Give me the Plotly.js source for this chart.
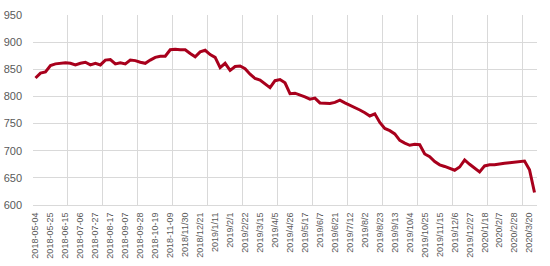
<!DOCTYPE html>
<html>
<head>
<meta charset="utf-8">
<script src="https://cdn.plot.ly/plotly-3.0.1.min.js"></script>
<style>html,body{margin:0;padding:0;background:#fff;}#chart{width:550px;height:266px;}</style>
</head>
<body>
<div id="chart"></div>
<script>
var dates = [
  "2018-05-04","2018-05-11","2018-05-18","2018-05-25","2018-06-01","2018-06-08","2018-06-15","2018-06-22","2018-06-29",
  "2018-07-06","2018-07-13","2018-07-20","2018-07-27","2018-08-03","2018-08-10","2018-08-17","2018-08-24","2018-08-31",
  "2018-09-07","2018-09-14","2018-09-21","2018-09-28","2018-10-05","2018-10-12","2018-10-19","2018-10-26","2018-11-02",
  "2018-11-09","2018-11-16","2018-11-23","2018/11/30","2018/12/7","2018/12/14","2018/12/21","2018/12/28","2019/1/4",
  "2019/1/11","2019/1/18","2019/1/25","2019/2/1","2019/2/8","2019/2/15","2019/2/22","2019/3/1","2019/3/8",
  "2019/3/15","2019/3/22","2019/3/29","2019/4/5","2019/4/12","2019/4/19","2019/4/26","2019/5/3","2019/5/10",
  "2019/5/17","2019/5/24","2019/5/31","2019/6/7","2019/6/14","2019/6/18","2019/6/21","2019/6/28","2019/7/5",
  "2019/7/12","2019/7/19","2019/7/26","2019/8/2","2019/8/9","2019/8/16","2019/8/23","2019/8/30","2019/9/6",
  "2019/9/13","2019/9/20","2019/9/27","2019/10/4","2019/10/11","2019/10/18","2019/10/25","2019/11/1","2019/11/8",
  "2019/11/15","2019/11/22","2019/11/29","2019/12/6","2019/12/13","2019/12/20","2019/12/27","2020/1/3","2020/1/10",
  "2020/1/18","2020/1/23","2020/1/31","2020/2/7","2020/2/14","2020/2/21","2020/2/28","2020/3/6","2020/3/13",
  "2020/3/20","2020/3/27"
];
var values = [
  834,843,845,857,860,861,862,861,858,
  861,863,858,861,858,867,868,860,862,
  860,867,866,863,861,867,872,874,874,
  886,887,886,886,879,873,882,885,877,
  872,853,861,848,855,856,851,841,833,
  830,823,816,829,831,825,805,806,803,
  799,795,797,788,787,787,789,793,788,
  784,780,775,770,764,768,752,741,737,
  731,719,714,710,712,711,694,689,680,
  674,671,667,664,670,683,675,668,661,
  672,674,674,676,677,678,679,681,681,
  665,623
];
var tickLabels = [
  "2018-05-04","2018-05-25","2018-06-15","2018-07-06","2018-07-27","2018-08-17","2018-09-07","2018-09-28",
  "2018-10-19","2018-11-09","2018/11/30","2018/12/21","2019/1/11","2019/2/1","2019/2/22","2019/3/15",
  "2019/4/5","2019/4/26","2019/5/17","2019/6/7","2019/6/21","2019/7/12","2019/8/2","2019/8/23",
  "2019/9/13","2019/10/4","2019/10/25","2019/11/15","2019/12/6","2019/12/27","2020/1/18","2020/2/7",
  "2020/2/28","2020/3/20"
];
var yTicks = [600,650,700,750,800,850,900,950];

var trace = {
  x: dates, y: values, type: 'scatter', mode: 'lines',
  line: {color: '#A8001C', width: 3},
  hoverinfo: 'x+y'
};
// empty trace so the overlay grid axis gets drawn
var gridHolder = {x: [], y: [], type: 'scatter', mode: 'lines', xaxis: 'x2', yaxis: 'y', hoverinfo: 'skip'};

var lblFont = {family: 'Liberation Sans, Arial, sans-serif', size: 9, color: '#595959'};
var layout = {
  width: 550, height: 266,
  margin: {l: 33, r: 13, t: 15, b: 61},
  paper_bgcolor: '#ffffff', plot_bgcolor: '#ffffff',
  showlegend: false,
  font: lblFont,
  xaxis: {
    type: 'category', categoryorder: 'array', categoryarray: dates,
    range: [-0.5, dates.length - 0.5],
    tickmode: 'array', tickvals: tickLabels, ticktext: tickLabels,
    tickangle: -90, tickfont: lblFont, ticklabelstandoff: 3,
    showgrid: false, zeroline: false,
    showline: true, linecolor: '#D9D9D9', linewidth: 1,
    ticks: '', fixedrange: true
  },
  xaxis2: {
    overlaying: 'x', type: 'linear', range: [-0.5, dates.length - 0.5],
    tick0: -0.5, dtick: 7, showticklabels: false, showgrid: true,
    gridcolor: '#D9D9D9', gridwidth: 1, zeroline: false, showline: false, ticks: '',
    fixedrange: true
  },
  yaxis: {
    range: [600, 950], tickmode: 'array', tickvals: yTicks,
    showgrid: true, gridcolor: '#D9D9D9', gridwidth: 1, zeroline: false,
    showline: false, ticks: '', ticklabelstandoff: 10,
    tickfont: {family: 'Liberation Sans, Arial, sans-serif', size: 11, color: '#595959'},
    fixedrange: true
  }
};
Plotly.newPlot('chart', [gridHolder, trace], layout, {staticPlot: true, displayModeBar: false});
</script>
</body>
</html>
